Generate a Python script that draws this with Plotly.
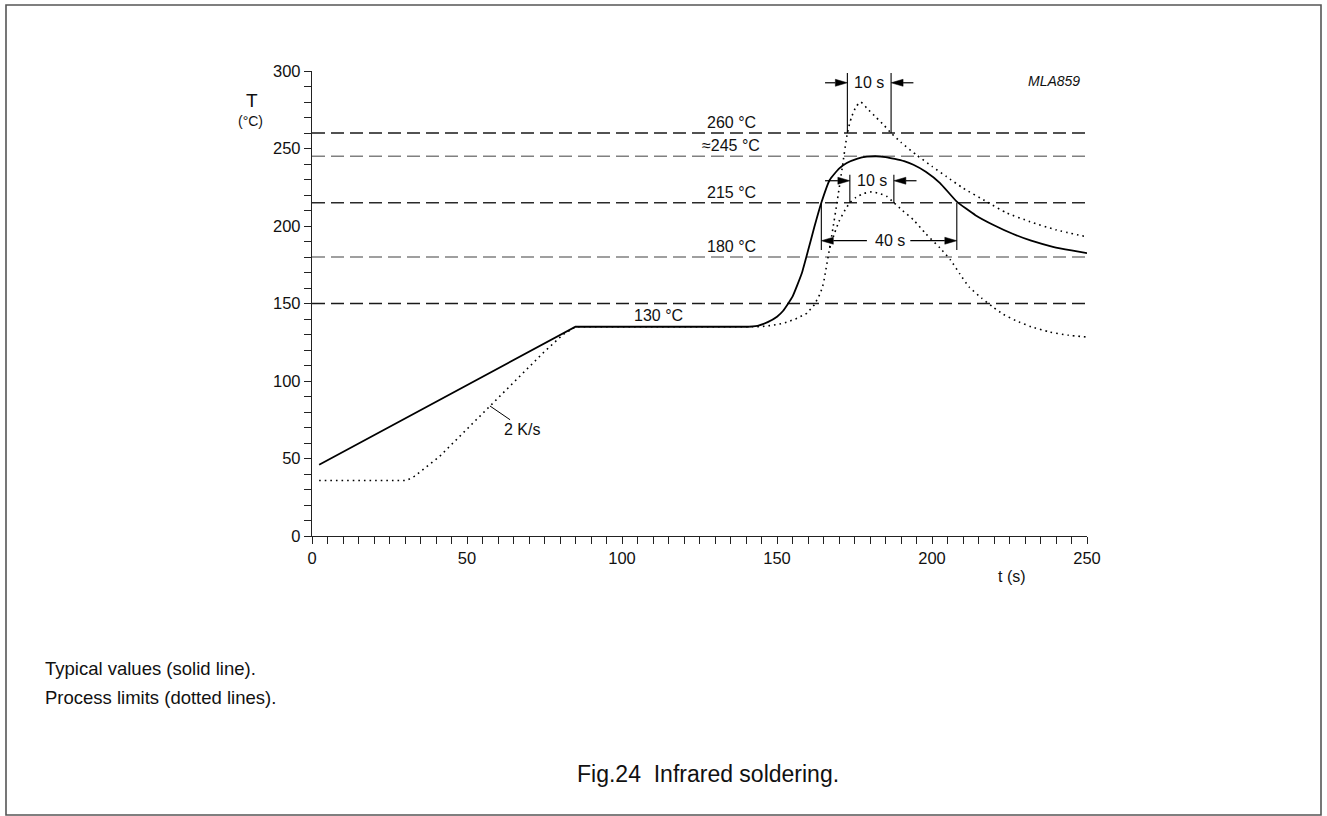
import plotly.graph_objects as go

# ---------------- data ----------------
# typical profile (solid): linear ramp + plateau, then reflow peak
ramp_t = [2.3, 85, 141]
ramp_T = [46, 135, 135]
solid_t = [141, 144, 147, 150, 152, 155, 158, 160, 162, 164.3, 167, 170,
           172.5, 176, 179, 182, 185, 188, 191, 194, 198, 202.6, 208, 214, 220, 226,
           232, 239, 245, 250]
solid_T = [135, 135.8, 138, 141.5, 145.3, 154.4, 169.5, 184, 199, 215, 229.7, 237,
           240.6, 243.5, 244.7, 245, 244.5, 243.3, 241.8, 239.5, 235, 227.7, 215.7, 207, 200.5, 195,
           190.5, 186.6, 184.2, 182.5]

# process limits (dotted) - common part
dot_t = [2.3, 30.5, 33, 36, 41, 52, 57.4, 66, 75, 81, 85, 144.5, 148, 152, 156, 159.6, 162, 164,
         165, 166, 167]
dot_T = [35.8, 35.8, 38.5, 43, 51, 73, 84, 101, 119, 130, 135, 135, 135.8, 137.2, 140, 143.6, 149,
         156.6, 163, 173.7, 186]
# upper limit
upper_t = [167, 168, 169.5, 171, 172.7, 174, 175.5, 177, 179, 182, 184.5, 186.8, 190, 195, 200,
           204.7, 210, 217.6, 224, 231.6, 240, 250]
upper_T = [186, 198, 217, 237, 260, 270, 277, 280, 276, 270, 265, 260, 254, 245.8, 238.5,
           231.8, 224.5, 215.7, 208.5, 202.8, 197.5, 193]
# lower limit
lower_t = [167, 168.5, 170, 172, 173.5, 175.5, 178, 180.5, 183, 185.5, 187.7, 190.5, 194, 198,
           202.6, 206, 209, 212, 216, 219.7, 223, 227, 232, 238, 244, 250]
lower_T = [186, 195, 203, 210.5, 215, 218.5, 221, 222, 221, 219, 215, 210, 204, 195,
           185.8, 178, 169, 160.6, 153.5, 147.7, 143, 139, 135, 131.6, 129.5, 128.4]

# reference temperature levels (dashed)
ref_levels = [260, 245, 215, 180, 150]
ref_colors = ["#1a1a1a", "#808080", "#2a2a2a", "#808080", "#1a1a1a"]
ref_labels = ["260 °C", "≈245 °C", "215 °C", "180 °C", None]

# dimension markers (times)
dim_upper10 = [172.7, 186.8]   # upper limit crossing 260 °C
dim_mid10 = [173.5, 187.7]     # lower limit crossing 215 °C
dim_40 = [164.3, 208.0]        # typical crossing 215 °C

FONT = "Liberation Sans, Arial, Helvetica, sans-serif"
LBL = 16

# ---------------- figure ----------------
W, H = 1327, 816
L, R, T, B = 312, 240, 71, 280
PW, PH = W - L - R, H - T - B


def xp(px):
    return (px - L) / PW


def yp(py):
    return (H - B - py) / PH


DOT = dict(color="black", width=1.6, dash="1.6px,4px")

fig = go.Figure()
fig.add_trace(go.Scatter(x=dot_t, y=dot_T, mode="lines", line=DOT, hoverinfo="skip"))
fig.add_trace(go.Scatter(x=upper_t, y=upper_T, mode="lines",
                         line=dict(DOT, shape="spline", smoothing=0.5), hoverinfo="skip"))
fig.add_trace(go.Scatter(x=lower_t, y=lower_T, mode="lines",
                         line=dict(DOT, shape="spline", smoothing=0.5), hoverinfo="skip"))
fig.add_trace(go.Scatter(x=ramp_t, y=ramp_T, mode="lines",
                         line=dict(color="black", width=1.8), hoverinfo="skip"))
fig.add_trace(go.Scatter(x=solid_t, y=solid_T, mode="lines",
                         line=dict(color="black", width=1.8, shape="spline", smoothing=0.4),
                         hoverinfo="skip"))

shapes = []
annotations = []

# dashed reference lines + labels
for lvl, col, lab in zip(ref_levels, ref_colors, ref_labels):
    shapes.append(dict(type="line", xref="x", yref="y", x0=0, x1=250, y0=lvl, y1=lvl,
                       line=dict(color=col, width=1.3, dash="13px,6px"), layer="below"))
    if lab:
        annotations.append(dict(x=135.2, y=lvl, xref="x", yref="y", text=lab, showarrow=False,
                                xanchor="center", yanchor="bottom", yshift=0,
                                font=dict(family=FONT, size=LBL, color="#111")))

annotations.append(dict(x=111.9, y=135, xref="x", yref="y", text="130 °C", showarrow=False,
                        xanchor="center", yanchor="bottom", yshift=1,
                        font=dict(family=FONT, size=LBL, color="#111")))

# 2 K/s label with leader
shapes.append(dict(type="line", xref="x", yref="y", x0=57.4, y0=83.9, x1=63.9, y1=75,
                   line=dict(color="black", width=1)))
annotations.append(dict(x=67.6, y=68.4, xref="x", yref="y", text="2 K/s", showarrow=False,
                        xanchor="center", yanchor="middle",
                        font=dict(family=FONT, size=LBL, color="#111")))

# arrow helper (pixel sizes converted to data units)
sx = PW / 250.0
sy = PH / 300.0
head_len = 12 / sx
head_half = 3.5 / sy


def arrow(x_tail, x_head, y):
    d = 1 if x_head > x_tail else -1
    base = x_head - d * head_len
    shapes.append(dict(type="line", xref="x", yref="y", x0=x_tail, x1=base, y0=y, y1=y,
                       line=dict(color="black", width=1.2)))
    shapes.append(dict(type="path", xref="x", yref="y",
                       path=f"M {x_head},{y} L {base},{y + head_half} L {base},{y - head_half} Z",
                       fillcolor="black", line=dict(color="black", width=0.5)))


def vline(x, y0, y1):
    shapes.append(dict(type="line", xref="x", yref="y", x0=x, x1=x, y0=y0, y1=y1,
                       line=dict(color="black", width=1.1)))


# upper 10 s
vline(dim_upper10[0], 260, 298.7)
vline(dim_upper10[1], 260, 298.7)
arrow(dim_upper10[0] - 7.2, dim_upper10[0], 292.4)
arrow(dim_upper10[1] + 7.2, dim_upper10[1], 292.4)
annotations.append(dict(x=(dim_upper10[0] + dim_upper10[1]) / 2, y=292.4, xref="x", yref="y",
                        text="10 s", showarrow=False, xanchor="center", yanchor="middle",
                        font=dict(family=FONT, size=LBL, color="#111")))
# middle 10 s
vline(dim_mid10[0], 215, 233)
vline(dim_mid10[1], 215, 233)
arrow(dim_mid10[0] - 8, dim_mid10[0], 229.2)
arrow(dim_mid10[1] + 7.3, dim_mid10[1], 229.2)
annotations.append(dict(x=(dim_mid10[0] + dim_mid10[1]) / 2, y=229.2, xref="x", yref="y",
                        text="10 s", showarrow=False, xanchor="center", yanchor="middle",
                        font=dict(family=FONT, size=LBL, color="#111")))
# 40 s
vline(dim_40[0], 184.5, 215)
vline(dim_40[1], 184.5, 215)
arrow(179.0, dim_40[0], 190.5)
arrow(193.0, dim_40[1], 190.5)
annotations.append(dict(x=186.3, y=190.5, xref="x", yref="y",
                        text="40 s", showarrow=False, xanchor="center", yanchor="middle",
                        font=dict(family=FONT, size=LBL, color="#111")))

# MLA859
annotations.append(dict(x=xp(1082), y=yp(81), xref="paper", yref="paper", text="<i>MLA859</i>",
                        showarrow=False, xanchor="right", yanchor="middle",
                        font=dict(family=FONT, size=14, color="#111")))
# axis titles
annotations.append(dict(x=xp(252), y=yp(100), xref="paper", yref="paper", text="T",
                        showarrow=False, xanchor="center", yanchor="middle",
                        font=dict(family=FONT, size=19, color="#111")))
annotations.append(dict(x=xp(250), y=yp(121), xref="paper", yref="paper", text="(°C)",
                        showarrow=False, xanchor="center", yanchor="middle",
                        font=dict(family=FONT, size=14, color="#111")))
annotations.append(dict(x=xp(1012), y=yp(576), xref="paper", yref="paper", text="t (s)",
                        showarrow=False, xanchor="center", yanchor="middle",
                        font=dict(family=FONT, size=LBL, color="#111")))
# notes and caption
annotations.append(dict(x=xp(43), y=yp(668), xref="paper", yref="paper",
                        text="Typical values (solid line).", showarrow=False,
                        xanchor="left", yanchor="middle",
                        font=dict(family=FONT, size=18.5, color="#111")))
annotations.append(dict(x=xp(43), y=yp(697), xref="paper", yref="paper",
                        text="Process limits (dotted lines).", showarrow=False,
                        xanchor="left", yanchor="middle",
                        font=dict(family=FONT, size=18.5, color="#111")))
annotations.append(dict(x=xp(708), y=yp(774), xref="paper", yref="paper",
                        text="Fig.24  Infrared soldering.", showarrow=False,
                        xanchor="center", yanchor="middle",
                        font=dict(family=FONT, size=23, color="#111")))

# outer border
shapes.append(dict(type="rect", xref="paper", yref="paper",
                   x0=xp(6), x1=xp(1321), y0=yp(815), y1=yp(5),
                   line=dict(color="#555", width=1.6), fillcolor="rgba(0,0,0,0)", layer="below"))

AX = dict(showgrid=False, zeroline=False, showline=True, linecolor="#222", linewidth=1.3,
          ticks="outside", ticklen=7, tickwidth=1.1, tickcolor="#222",
          tickfont=dict(family=FONT, size=16.5, color="#111"), fixedrange=True)

fig.update_layout(
    width=W, height=H,
    margin=dict(l=L, r=R, t=T, b=B, pad=0),
    paper_bgcolor="white", plot_bgcolor="white",
    showlegend=False,
    shapes=shapes, annotations=annotations,
    font=dict(family=FONT, size=14, color="#111"),
    xaxis=dict(AX, range=[0, 250], dtick=50, tick0=0,
               minor=dict(dtick=5, ticks="outside", ticklen=7, tickwidth=1.1, tickcolor="#222")),
    yaxis=dict(AX, range=[0, 300], dtick=50, tick0=0,
               minor=dict(dtick=10, ticks="outside", ticklen=7, tickwidth=1.1, tickcolor="#222")),
)

fig.write_html("out.html", post_script="document.body.style.margin='0';",
               config={"displayModeBar": False})
